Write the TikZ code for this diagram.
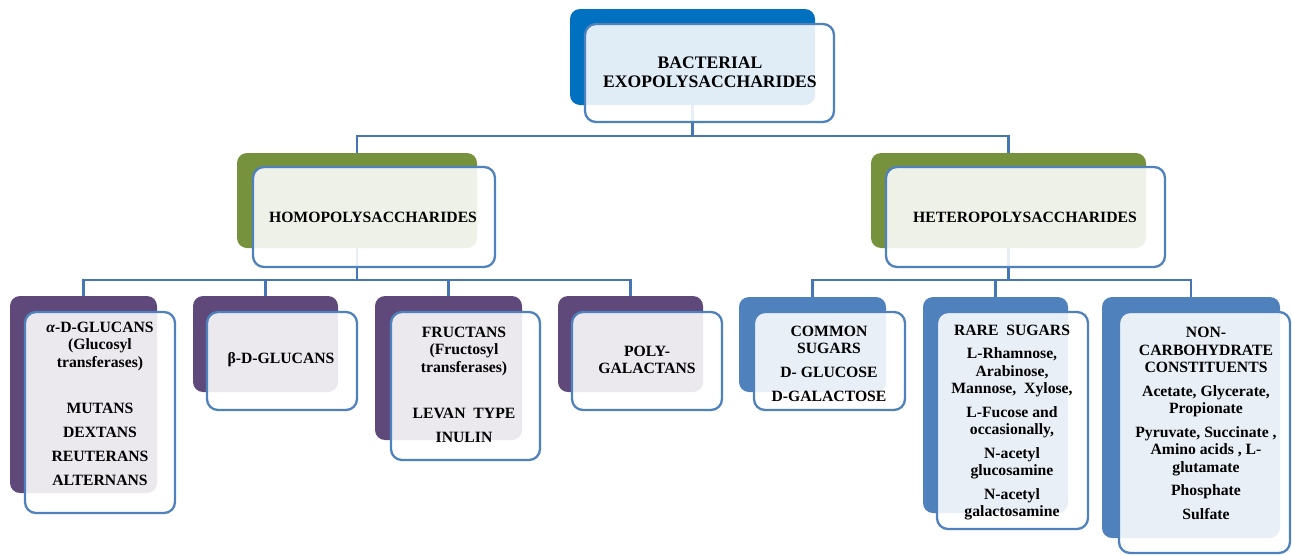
\documentclass[tikz,border=0pt]{standalone}
\usepackage{fontspec}
\setmainfont{Liberation Serif}
\pgfdeclarelayer{bg}
\pgfsetlayers{bg,main}
\definecolor{cBlue}{HTML}{0070C0}
\definecolor{cGreen}{HTML}{76923C}
\definecolor{cPurple}{HTML}{5F497A}
\definecolor{cSteel}{HTML}{4F81BD}
\definecolor{cEdge}{HTML}{4F81BD}
\definecolor{cLine}{HTML}{4677B4}
\tikzset{
  backbox/.style={rounded corners=10pt, draw=none, inner sep=0pt, outer sep=0pt},
  frontbox/.style={rounded corners=11pt, draw=cEdge, line width=2.3pt, fill=white, fill opacity=0.88, inner sep=0pt, outer sep=0pt},
  lbl/.style={font=\fontsize{15.7}{17.5}\selectfont\bfseries, align=center, inner sep=0pt, text=black},
  toplbl/.style={font=\fontsize{17.6}{19.5}\selectfont\bfseries, align=center, inner sep=0pt, text=black},
  conn/.style={draw=cLine, line width=2.4pt},
}
\begin{document}
\begin{tikzpicture}[x=1pt,y=-1pt]
\useasboundingbox (0,0) rectangle (1292,555);
% ---- top
\node[backbox, fill=cBlue, minimum width=245pt, minimum height=96pt] (topB) at (692.5,57) {};
\node[frontbox, minimum width=249pt, minimum height=98pt] (topF) at (709.5,73) {};
\node[toplbl] (topT) at (710,72.5) {BACTERIAL\\EXOPOLYSACCHARIDES};
% ---- level 2
\node[backbox, fill=cGreen, minimum width=240pt, minimum height=95pt] (homoB) at (357,200.5) {};
\node[frontbox, minimum width=242pt, minimum height=100pt] (homoF) at (374,217) {};
\node[lbl] (homoT) at (373,217) {HOMOPOLYSACCHARIDES};
\node[backbox, fill=cGreen, minimum width=275pt, minimum height=95pt] (heteroB) at (1008.5,200.5) {};
\node[frontbox, minimum width=279pt, minimum height=100pt] (heteroF) at (1025.5,217) {};
\node[lbl] (heteroT) at (1025,217) {HETEROPOLYSACCHARIDES};
% ---- homo children
\node[backbox, fill=cPurple, minimum width=147pt, minimum height=197pt] (alphaB) at (83.5,394.5) {};
\node[frontbox, minimum width=150pt, minimum height=201pt] (alphaF) at (100,412.5) {};
\node[lbl] (alphaT) at (100,403.5) {\textit{α}-D-GLUCANS\\(Glucosyl\\transferases)\\[28.5pt]MUTANS\\[6.5pt]DEXTANS\\[6.5pt]REUTERANS\\[6.5pt]ALTERNANS};
\node[backbox, fill=cPurple, minimum width=145pt, minimum height=96pt] (betaB) at (265.5,344) {};
\node[frontbox, minimum width=150pt, minimum height=98pt] (betaF) at (282,361) {};
\node[lbl] (betaT) at (281,360) {β-D-GLUCANS};
\node[backbox, fill=cPurple, minimum width=147pt, minimum height=144pt] (fructB) at (448.5,368) {};
\node[frontbox, minimum width=149pt, minimum height=148pt] (fructF) at (465.5,386) {};
\node[lbl] (fructT) at (464,384.5) {FRUCTANS\\(Fructosyl\\transferases)\\[28.5pt]LEVAN\ \ TYPE\\[6.5pt]INULIN};
\node[backbox, fill=cPurple, minimum width=145pt, minimum height=96pt] (polyB) at (630.5,344) {};
\node[frontbox, minimum width=150pt, minimum height=98pt] (polyF) at (647,361) {};
\node[lbl] (polyT) at (647,360) {POLY-\\GALACTANS};
% ---- hetero children
\node[backbox, fill=cSteel, minimum width=147pt, minimum height=95pt] (commonB) at (812.5,344.5) {};
\node[frontbox, minimum width=151pt, minimum height=98pt] (commonF) at (829.5,361) {};
\node[lbl] (commonT) at (829,364) {COMMON\\SUGARS\\[6.5pt]D- GLUCOSE\\[6.5pt]D-GALACTOSE};
\node[backbox, fill=cSteel, minimum width=145pt, minimum height=216pt] (rareB) at (995.5,405) {};
\node[frontbox, minimum width=151pt, minimum height=217pt] (rareF) at (1012.5,420.5) {};
\node[lbl] (rareT) at (1012,422.5) {RARE\ \ SUGARS\\[6pt]L-Rhamnose,\\Arabinose,\\Mannose,\ \ Xylose,\\[6pt]L-Fucose and\\occasionally,\\[6pt]N-acetyl\\glucosamine\\[6pt]N-acetyl\\galactosamine};
\node[backbox, fill=cSteel, minimum width=178pt, minimum height=241pt] (noncB) at (1191,417.5) {};
\node[frontbox, minimum width=171pt, minimum height=241pt] (noncF) at (1204.5,432.5) {};
\node[lbl] (noncT) at (1206,423.5) {NON-\\CARBOHYDRATE\\CONSTITUENTS\\[6pt]Acetate, Glycerate,\\Propionate\\[6pt]Pyruvate, Succinate ,\\Amino acids , L-\\glutamate\\[6pt]Phosphate\\[6pt]Sulfate};
% ---- connectors
\begin{pgfonlayer}{bg}
\coordinate (busA) at (0,136);
\coordinate (busB) at (0,280);
\draw[conn] (topB.south) -- (topB.south |- busA) -| (homoB.north);
\draw[conn] (topB.south |- busA) -| (heteroB.north);
\draw[conn] (homoB.south) -- (homoB.south |- busB) -| (alphaB.north);
\draw[conn] (homoB.south |- busB) -| (betaB.north);
\draw[conn] (homoB.south |- busB) -| (fructB.north);
\draw[conn] (homoB.south |- busB) -| (polyB.north);
\draw[conn] (heteroB.south) -- (heteroB.south |- busB) -| (commonB.north);
\draw[conn] (heteroB.south |- busB) -| (rareB.north);
\draw[conn] (heteroB.south |- busB) -| (noncB.north);
\end{pgfonlayer}
\end{tikzpicture}
\end{document}
